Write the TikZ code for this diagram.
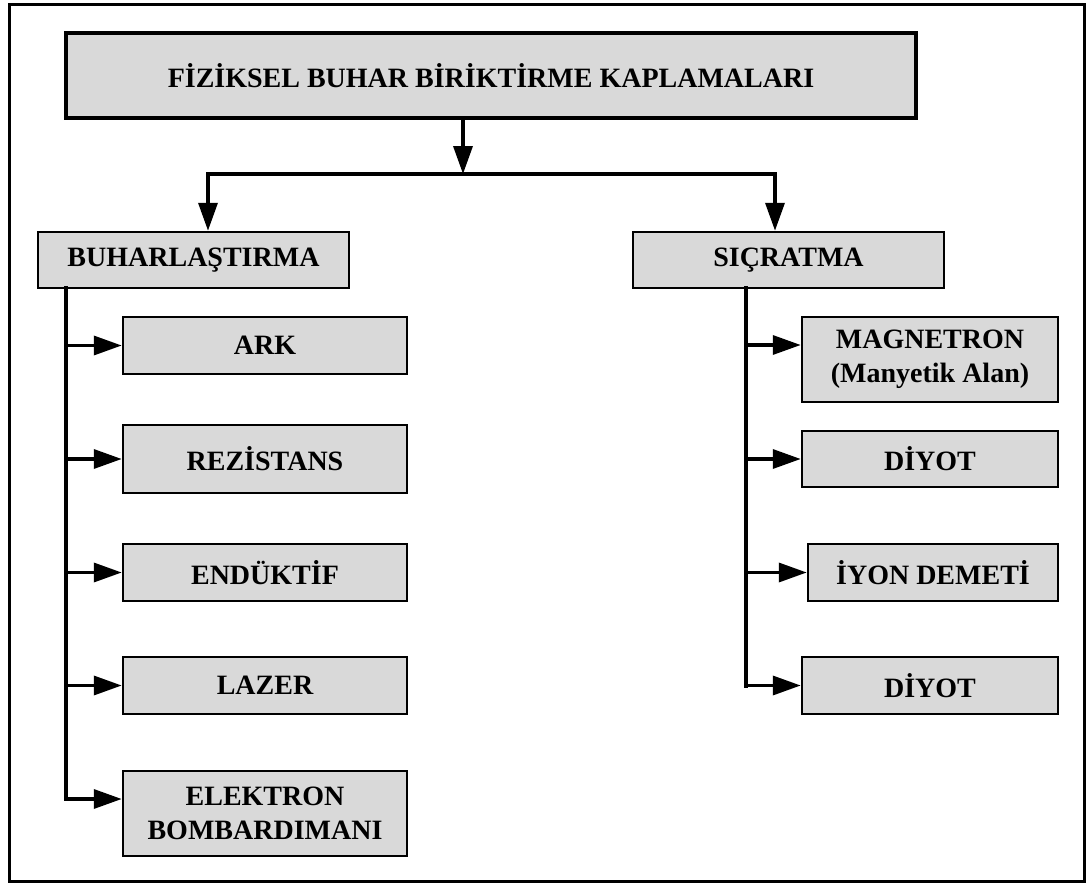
\documentclass[tikz,border=0pt]{standalone}
\usepackage{fontspec}
\setmainfont{Liberation Serif}
\usetikzlibrary{arrows.meta}
\tikzset{
  box/.style={draw=black, line width=2.5pt, fill=boxgray, align=center, inner sep=0pt,
    font=\fontsize{28}{34}\selectfont\bfseries},
  topbox/.style={box, line width=3.5pt},
  conn/.style={line width=3.5pt, line cap=rect},
  arr/.style={line width=3.5pt, -{Triangle[length=28pt, width=19pt]}},
}
\definecolor{boxgray}{RGB}{217,217,217}
\begin{document}
\begin{tikzpicture}[x=1pt, y=-1pt]
\useasboundingbox (0,0) rectangle (1088,883);
\draw[line width=3pt] (9,5) rectangle (1084,881.5);

% boxes
\node[topbox, minimum width=850pt, minimum height=85pt] (top) at (491,75.5) {FİZİKSEL BUHAR BİRİKTİRME KAPLAMALARI};
\node[box, minimum width=311pt, minimum height=56pt] (buh) at (193.5,260) {BUHARLAŞTIRMA};
\node[box, minimum width=311pt, minimum height=56pt] (sic) at (788.5,260) {SIÇRATMA};

\node[box, minimum width=284pt, minimum height=57pt] (ark) at (265,345.5) {ARK};
\node[box, minimum width=284pt, minimum height=68pt] (rez) at (265,459) {REZİSTANS};
\node[box, minimum width=284pt, minimum height=57pt] (end) at (265,572.5) {ENDÜKTİF};
\node[box, minimum width=284pt, minimum height=57pt] (laz) at (265,685.5) {LAZER};
\node[box, minimum width=284pt, minimum height=85pt] (ele) at (265,813.5) {ELEKTRON\\BOMBARDIMANI};

\node[box, minimum width=256pt, minimum height=85pt] (mag) at (930,359.5) {MAGNETRON\\(Manyetik Alan)};
\node[box, minimum width=256pt, minimum height=56pt] (diy) at (930,459) {DİYOT};
\node[box, minimum width=250pt, minimum height=57pt] (iyon) at (933,572.5) {İYON DEMETİ};
\node[box, minimum width=256pt, minimum height=57pt] (diy2) at (930,685.5) {DİYOT};

% top connectors
\coordinate (bar) at (463,174);
\coordinate (bl) at (208,174);
\coordinate (br) at (775,174);
\draw[arr] (top.south -| bar) -- (bar);
\draw[conn] (bl) -- (br);
\draw[arr] (bl) -- (bl |- buh.north);
\draw[arr] (br) -- (br |- sic.north);

% left trunk
\coordinate (lt) at (66,288);
\draw[conn] (lt) -- (lt |- 0,799);
\coordinate (lb) at (66,799);
\draw[arr] (ark.west -| lt) -- (ark.west);
\draw[arr] (lt |- 0,459) -- (rez.west);
\draw[arr] (end.west -| lt) -- (end.west);
\draw[arr] (laz.west -| lt) -- (laz.west);
\draw[arr] (lb) -- (lb -| ele.west);

% right trunk
\coordinate (rt) at (746,288);
\draw[conn] (rt) -- (746,686);
\draw[arr] (746,345) -- (mag.west |- 0,345);
\draw[arr] (diy.west -| rt) -- (diy.west);
\draw[arr] (iyon.west -| rt) -- (iyon.west);
\draw[arr] (diy2.west -| rt) -- (diy2.west);
\end{tikzpicture}
\end{document}
